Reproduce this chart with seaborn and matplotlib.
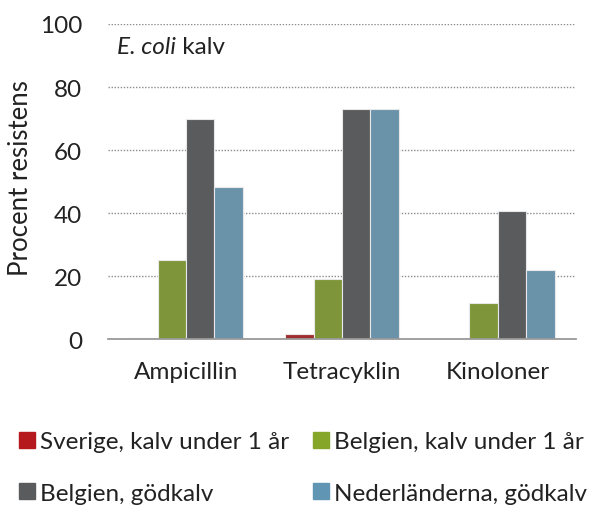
import matplotlib
matplotlib.use("Agg")
import matplotlib.pyplot as plt
from matplotlib.lines import Line2D
import seaborn as sns
import pandas as pd

categories = ["Ampicillin", "Tetracyklin", "Kinoloner"]
series_names = ["Sverige, kalv under 1 år", "Belgien, kalv under 1 år",
                "Belgien, gödkalv", "Nederländerna, gödkalv"]
sverige_kalv = [0.4, 1.5, 0.0]
belgien_kalv = [25, 19, 11.3]
belgien_godkalv = [70, 73, 40.6]
nederland_godkalv = [48.3, 73, 21.8]
colors = ["#B5191E", "#85A629", "#5A5B5D", "#6096B4"]
y_ticks = [0, 20, 40, 60, 80, 100]

values = [sverige_kalv, belgien_kalv, belgien_godkalv, nederland_godkalv]
rows = []
for name, vals in zip(series_names, values):
    for c, v in zip(categories, vals):
        rows.append({"Kategori": c, "Serie": name, "Procent": v})
df = pd.DataFrame(rows)

sns.set_style("white")
plt.rcParams["font.family"] = ["Lato", "DejaVu Sans"]
plt.rcParams["text.color"] = "#222222"
TXT = "#222222"
FS = 17.5

fig = plt.figure(figsize=(5.95, 5.06), dpi=100)
ax = fig.add_axes([0.1815, 0.328, 0.7865, 0.6226])

sns.barplot(data=df, x="Kategori", y="Procent", hue="Serie",
            hue_order=series_names, order=categories, palette=colors,
            width=0.73, edgecolor="#E8E8E8", linewidth=0.8,
            legend=False, ax=ax, zorder=3)

ax.set_ylim(0, 100)
ax.set_xlim(-0.5, 2.5)
ax.set_yticks(y_ticks)
ax.set_yticklabels([str(t) for t in y_ticks], fontsize=FS, color=TXT)
ax.yaxis.grid(True, linestyle=(0, (1, 1.2)), color="#8C8C8C", linewidth=1.0, zorder=0)
ax.xaxis.grid(False)
ax.tick_params(axis="y", length=0, pad=18.5)
ax.set_xlabel("")
ax.set_ylabel("Procent resistens", fontsize=18.5, color=TXT)
ax.yaxis.set_label_coords(-0.16, 0.515)

# x axis: ticks at category boundaries
ax.set_xticks([-0.5, 0.5, 1.5, 2.5], minor=True)
ax.set_xticks([0, 1, 2])
ax.set_xticklabels(categories, fontsize=FS, color=TXT)
ax.tick_params(axis="x", which="major", length=0, pad=16)
ax.tick_params(axis="x", which="minor", length=8, width=1.3, color="#9A9A9A", direction="out")

for s in ["top", "right", "left"]:
    ax.spines[s].set_visible(False)
ax.spines["bottom"].set_color("#9A9A9A")
ax.spines["bottom"].set_linewidth(1.3)
ax.spines["bottom"].set_zorder(4)

t1 = ax.text(0.02, 0.928, "E. coli", transform=ax.transAxes, fontsize=17.5,
             fontstyle="italic", va="center", ha="left", color=TXT)
fig.canvas.draw()
ext = t1.get_window_extent(renderer=fig.canvas.get_renderer())
x_end = ax.transAxes.inverted().transform((ext.x1, ext.y0))[0]
ax.text(x_end, 0.928, " kalv", transform=ax.transAxes, fontsize=17.5,
        va="center", ha="left", color=TXT)

handles = [Line2D([], [], marker="s", linestyle="none", markersize=11.5,
                  markerfacecolor=c, markeredgecolor=c) for c in colors]
order = [0, 2, 1, 3]
fig.legend([handles[i] for i in order], [series_names[i] for i in order],
           ncol=2, loc="upper left", bbox_to_anchor=(0.012, 0.165),
           frameon=False, fontsize=FS, handlelength=0.8, handletextpad=0.15,
           columnspacing=0.9, labelspacing=1.25, borderaxespad=0)

fig.savefig("out.png", dpi=100)
